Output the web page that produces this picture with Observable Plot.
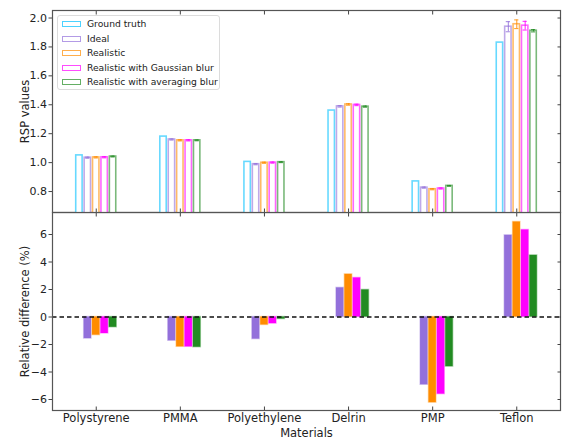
<!DOCTYPE html>
<html>
<head>
<meta charset="utf-8">
<script src="https://cdn.jsdelivr.net/npm/d3@7"></script>
<script src="https://cdn.jsdelivr.net/npm/@observablehq/plot@0.6"></script>
<style>
  html, body { margin: 0; padding: 0; background: white; }
  #chart { position: relative; width: 572px; height: 441px; font-family: "DejaVu Sans", sans-serif; color: #222; }
  #chart svg { position: absolute; left: 0; }
  #legend { position: absolute; left: 57px; top: 15px; width: 163px; height: 75px; border: 1px solid #dcdcdc; border-radius: 3px; background: rgba(255,255,255,0.85); box-sizing: border-box; font-size: 9.2px; }
  .row { position: absolute; left: 0; height: 12px; }
  .patch { position: absolute; left: 4px; top: 3px; width: 19px; height: 6px; box-sizing: border-box; }
  .lab { position: absolute; left: 29px; top: 0; white-space: nowrap; line-height: 12px; }
</style>
</head>
<body>
<div id="chart"></div>
<script>
const materials = ["Polystyrene", "PMMA", "Polyethylene", "Delrin", "PMP", "Teflon"];
const series = ["Ground truth", "Ideal", "Realistic", "Realistic with Gaussian blur", "Realistic with averaging blur"];
const colors = ["#00bfff", "#9370db", "#ff8c00", "#ff00ff", "#228b22"];

// RSP values
const groundTruth = [1.05, 1.18, 1.005, 1.36, 0.87, 1.83];
const ideal       = [1.034, 1.160, 0.989, 1.389, 0.827, 1.940];
const realistic   = [1.036, 1.154, 0.999, 1.402, 0.816, 1.957];
const gaussBlur   = [1.037, 1.154, 1.000, 1.399, 0.821, 1.947];
const avgBlur     = [1.042, 1.154, 1.003, 1.387, 0.839, 1.912];

// error bars (std) for RSP values
const idealErr     = [0.004, 0.004, 0.004, 0.005, 0.004, 0.035];
const realisticErr = [0.004, 0.004, 0.004, 0.005, 0.004, 0.030];
const gaussErr     = [0.004, 0.004, 0.004, 0.005, 0.004, 0.030];
const avgErr       = [0.003, 0.003, 0.003, 0.004, 0.003, 0.008];

// Relative difference (%)
const relIdeal     = [-1.57, -1.73, -1.61, 2.12, -4.93, 5.94];
const relRealistic = [-1.32, -2.17, -0.58, 3.10, -6.23, 6.91];
const relGauss     = [-1.20, -2.17, -0.48, 2.84, -5.61, 6.33];
const relAvg       = [-0.75, -2.20, -0.15, 1.97, -3.61, 4.48];

const rspTicks = [0.8, 1.0, 1.2, 1.4, 1.6, 1.8, 2.0];
const relTicks = [-6, -4, -2, 0, 2, 4, 6];

const barW = 0.1;
const rspSeries = [groundTruth, ideal, realistic, gaussBlur, avgBlur];
const errSeries = [null, idealErr, realisticErr, gaussErr, avgErr];
const relSeries = [null, relIdeal, relRealistic, relGauss, relAvg];

const topRows = [], errRows = [], relRows = [];
series.forEach((s, k) => {
  materials.forEach((m, i) => {
    const c = i + (k - 2) * barW;
    topRows.push({series: s, c, v: rspSeries[k][i]});
    if (errSeries[k]) errRows.push({series: s, c, lo: rspSeries[k][i] - errSeries[k][i], hi: rspSeries[k][i] + errSeries[k][i]});
    if (relSeries[k]) relRows.push({series: s, c, v: relSeries[k][i]});
  });
});

const catIdx = materials.map((m, i) => i);
const xDomain = [-0.52, 5.52];
const colorScale = {domain: series, range: colors};
const style = {fontFamily: "DejaVu Sans, sans-serif", fontSize: "11px", color: "#222", background: "transparent", overflow: "visible"};

const topPlot = Plot.plot({
  width: 572, height: 212,
  marginLeft: 52, marginRight: 12, marginTop: 10, marginBottom: 0,
  style,
  x: {domain: xDomain, axis: null},
  y: {domain: [0.655, 2.052], axis: null},
  color: colorScale,
  marks: [
    Plot.rectY(topRows, {x1: d => d.c - barW / 2 + 0.012, x2: d => d.c + barW / 2 - 0.012, y1: 0, y2: "v", fill: "white", stroke: "series", strokeOpacity: 0.6, strokeWidth: 1.6, clip: true}),
    Plot.ruleX(errRows, {x: "c", y1: "lo", y2: "hi", stroke: "series", strokeWidth: 1.1, strokeOpacity: 0.8}),
    Plot.ruleY(errRows, {y: "lo", x1: d => d.c - 0.025, x2: d => d.c + 0.025, stroke: "series", strokeWidth: 1.1, strokeOpacity: 0.8}),
    Plot.ruleY(errRows, {y: "hi", x1: d => d.c - 0.025, x2: d => d.c + 0.025, stroke: "series", strokeWidth: 1.1, strokeOpacity: 0.8}),
    Plot.frame({stroke: "#555", strokeWidth: 1.2}),
    Plot.axisY(rspTicks, {anchor: "left", tickSize: 3.5, tickPadding: 2, tickFormat: d3.format(".1f"), label: null, stroke: "#444"}),
    Plot.axisY(rspTicks, {anchor: "right", tickSize: -3.5, tickFormat: () => "", label: null, stroke: "#444"}),
    Plot.axisX(catIdx, {anchor: "bottom", tickSize: -3.5, tickFormat: () => "", label: null, stroke: "#444"}),
    Plot.axisX(catIdx, {anchor: "top", tickSize: -3.5, tickFormat: () => "", label: null, stroke: "#444"}),
    Plot.text(["RSP values"], {frameAnchor: "left", textAnchor: "middle", lineAnchor: "middle", rotate: -90, dx: -27, fontSize: 11.5, fill: "#222"})
  ]
});

const botPlot = Plot.plot({
  width: 572, height: 229,
  marginLeft: 52, marginRight: 12, marginTop: 0, marginBottom: 31,
  style,
  x: {domain: xDomain, axis: null},
  y: {domain: [-6.8, 7.6], axis: null},
  color: colorScale,
  marks: [
    Plot.rectY(relRows, {x1: d => d.c - barW / 2 + 0.006, x2: d => d.c + barW / 2 - 0.006, y1: 0, y2: "v", fill: "series", stroke: "series", strokeOpacity: 0.35, strokeWidth: 1.4}),
    Plot.ruleY([0], {stroke: "#111", strokeWidth: 1.3, strokeDasharray: "4.5,3"}),
    Plot.frame({stroke: "#555", strokeWidth: 1.2}),
    Plot.axisY(relTicks, {anchor: "left", tickSize: 3.5, tickPadding: 2, tickFormat: d3.format("d"), label: null, stroke: "#444"}),
    Plot.axisY(relTicks, {anchor: "right", tickSize: -3.5, tickFormat: () => "", label: null, stroke: "#444"}),
    Plot.axisX(catIdx, {anchor: "top", tickSize: -3.5, tickFormat: () => "", label: null, stroke: "#444"}),
    Plot.axisX(catIdx, {anchor: "bottom", tickSize: -3.5, tickPadding: 6.5, tickFormat: i => materials[i], label: null, stroke: "#444", fontSize: 11.5}),
    Plot.text(["Materials"], {frameAnchor: "bottom", dy: 23, lineAnchor: "middle", fontSize: 11.5, fill: "#222"}),
    Plot.text(["Relative difference (%)"], {frameAnchor: "left", textAnchor: "middle", lineAnchor: "middle", rotate: -90, dx: -27, fontSize: 11.5, fill: "#222"})
  ]
});

const chart = document.getElementById("chart");
topPlot.style.top = "0px";
botPlot.style.top = "212px";
chart.appendChild(botPlot);
chart.appendChild(topPlot);

const legend = document.createElement("div");
legend.id = "legend";
series.forEach((s, k) => {
  const row = document.createElement("div");
  row.className = "row";
  row.style.top = (2.3 + k * 14.4) + "px";
  const p = document.createElement("div");
  p.className = "patch";
  p.style.border = "1.5px solid " + colors[k];
  p.style.opacity = "0.7";
  const t = document.createElement("div");
  t.className = "lab";
  t.textContent = s;
  row.appendChild(p);
  row.appendChild(t);
  legend.appendChild(row);
});
chart.appendChild(legend);
</script>
</body>
</html>
